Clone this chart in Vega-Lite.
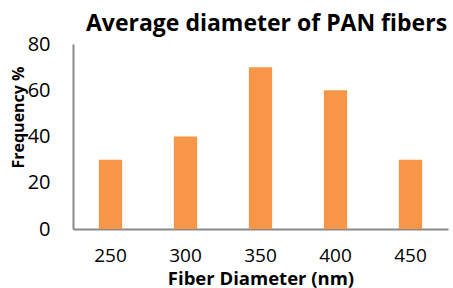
{
  "$schema": "https://vega.github.io/schema/vega-lite/v6.json",
  "autosize": {"type": "none"},
  "width": 375,
  "height": 185,
  "padding": {"left": 73, "top": 44, "right": 5, "bottom": 59},
  "background": "white",
  "config": {"view": {"stroke": null}, "font": "Open Sans"},
  "title": {
    "text": "Average diameter of PAN fibers",
    "font": "Open Sans",
    "fontSize": 23,
    "fontWeight": "bold",
    "color": "#000000",
    "anchor": "middle",
    "dx": 6,
    "dy": 31,
    "baseline": "alphabetic",
    "offset": 11
  },
  "data": {
    "values": [
      {"diameter": "250", "frequency": 30},
      {"diameter": "300", "frequency": 40},
      {"diameter": "350", "frequency": 70},
      {"diameter": "400", "frequency": 60},
      {"diameter": "450", "frequency": 30}
    ]
  },
  "mark": {"type": "bar", "color": "#F79646"},
  "encoding": {
    "x": {
      "field": "diameter",
      "type": "ordinal",
      "scale": {"paddingInner": 0.69, "paddingOuter": 0.345},
      "axis": {
        "title": "Fiber Diameter (nm)",
        "titleFont": "Open Sans",
        "titleFontSize": 18.5,
        "titleFontWeight": "bold",
        "titleColor": "#000000",
        "titleBaseline": "alphabetic",
        "titleY": 55,
        "labelAngle": 0,
        "labelFont": "Open Sans",
        "labelFontSize": 19,
        "labelColor": "#000000",
        "labelPadding": 17,
        "labelBaseline": "top",
        "ticks": false,
        "tickSize": 0,
        "domainColor": "#898989",
        "domainWidth": 2
      }
    },
    "y": {
      "field": "frequency",
      "type": "quantitative",
      "scale": {"domain": [0, 80]},
      "axis": {
        "title": "Frequency %",
        "titleFont": "Open Sans",
        "titleFontSize": 16,
        "titleFontWeight": "bold",
        "titleColor": "#000000",
        "titleX": -47,
        "titleY": 73,
        "titleAngle": -90,
        "titleBaseline": "bottom",
        "titleAlign": "center",
        "values": [0, 20, 40, 60, 80],
        "labelFont": "Open Sans",
        "labelFontSize": 20,
        "labelColor": "#000000",
        "labelPadding": 23,
        "ticks": false,
        "tickSize": 0,
        "grid": false,
        "domainColor": "#898989",
        "domainWidth": 2
      }
    }
  }
}
